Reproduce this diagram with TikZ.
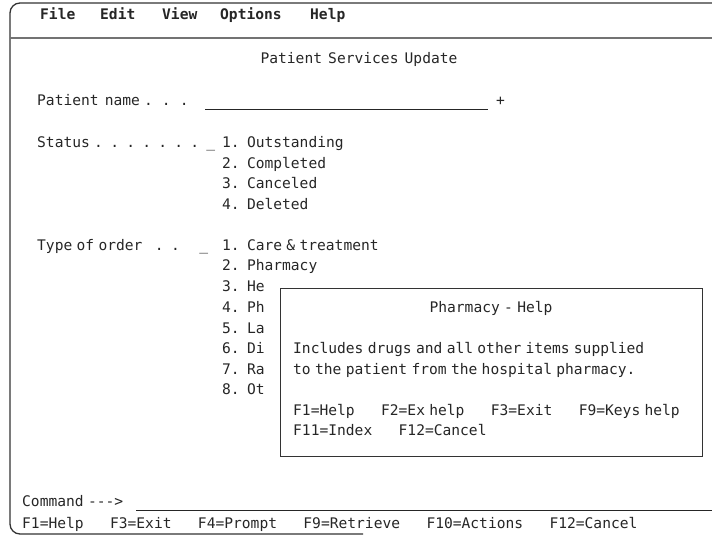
\documentclass[tikz,border=0pt]{standalone}
\usepackage{fontspec}
\newfontfamily\scrfont{DejaVu Sans Mono}
\newfontfamily\leaderfont{DejaVu Sans Mono}[WordSpace=0.7]
\newcommand{\blanks}[1]{\hspace*{#1\fontcharwd\font`\x}}
\tikzstyle{scrtext} = [anchor=base west, inner sep=0pt, text=black!85, font=\scrfont\fontsize{14.6}{17}\selectfont]
\tikzstyle{menuitem} = [scrtext, font=\scrfont\bfseries\fontsize{14.6}{17}\selectfont]
\tikzstyle{leader} = [scrtext, font=\leaderfont\fontsize{14.6}{17}\selectfont]
\tikzstyle{helpwin} = [rectangle, draw=black!80, line width=1pt, fill=white, minimum width=422pt, minimum height=167pt, inner sep=0pt]
\tikzstyle{frameline} = [line width=1.3pt, draw=black!80]
\tikzstyle{sepline} = [line width=2pt, draw=black!55]
\tikzstyle{inputline} = [line width=0.9pt, draw=black!85]

\begin{document}
\begin{tikzpicture}[x=1pt, y=-1pt]
\useasboundingbox (0,0) rectangle (712,537);

\draw [frameline, rounded corners=10pt] (712,3) -- (10,3) -- (10,534) -- (363,534);
\draw [sepline] (10,38) -- (712,38);

\node (file) [menuitem] at (40,20) {File};
\node (edit) [menuitem] at (100,20) {Edit};
\node (view) [menuitem] at (162,20) {View};
\node (options) [menuitem] at (220,20) {Options};
\node (help) [menuitem] at (310,20) {Help};

\node (title) [scrtext, anchor=base] at (359,64) {Patient Services Update};

\node (name) [scrtext] at (37,106) {Patient name\hspace{4pt}. . .};
\coordinate (name in) at (205,109);
\coordinate (name end) at (488,109);
\node (plus) [scrtext] at (496,106) {+};
\draw [inputline] (name in) -- (name end);

\node (status) [leader] at (37,148) {Status . . . . . . . \_};
\node (s1) [scrtext] at (222,148) {1. Outstanding};
\node (s2) [scrtext] at (222,168.5) {2. Completed};
\node (s3) [scrtext] at (222,189) {3. Canceled};
\node (s4) [scrtext] at (222,209.5) {4. Deleted};

\node (type) [leader] at (37,250.5) {Type of order\hspace{12.5pt}. .\hspace{19.5pt}\_};
\node (t1) [scrtext] at (222,250.5) {1. Care \& treatment};
\node (t2) [scrtext] at (222,271) {2. Pharmacy};
\node (t3) [scrtext] at (222,292) {3. He};
\node (t4) [scrtext] at (222,312.5) {4. Ph};
\node (t5) [scrtext] at (222,333) {5. La};
\node (t6) [scrtext] at (222,353.5) {6. Di};
\node (t7) [scrtext] at (222,374) {7. Ra};
\node (t8) [scrtext] at (222,394.5) {8. Ot};

\node (helpbox) [helpwin] at (491,372.5) {};
\node (helptitle) [scrtext, anchor=base] at (491,312.5) {Pharmacy - Help};
\node (helptext1) [scrtext] at (293,353.5) {Includes drugs and all other items supplied};
\node (helptext2) [scrtext] at (293,374) {to the patient from the hospital pharmacy.};
\node (helpkeys1) [scrtext] at (293,415) {F1=Help\blanks{3}F2=Ex help\blanks{3}F3=Exit\blanks{3}F9=Keys help};
\node (helpkeys2) [scrtext] at (293,435.5) {F11=Index\blanks{3}F12=Cancel};

\node (cmd) [scrtext] at (22,506) {Command -\kern0pt-\kern0pt->};
\coordinate (cmd in) at (136,510);
\coordinate (cmd end) at (712,510);
\draw [inputline] (cmd in) -- (cmd end);
\node (fkeys) [scrtext] at (22,528) {F1=Help\blanks{3}F3=Exit\blanks{3}F4=Prompt\blanks{3}F9=Retrieve\blanks{3}F10=Actions\blanks{3}F12=Cancel};

\end{tikzpicture}
\end{document}
